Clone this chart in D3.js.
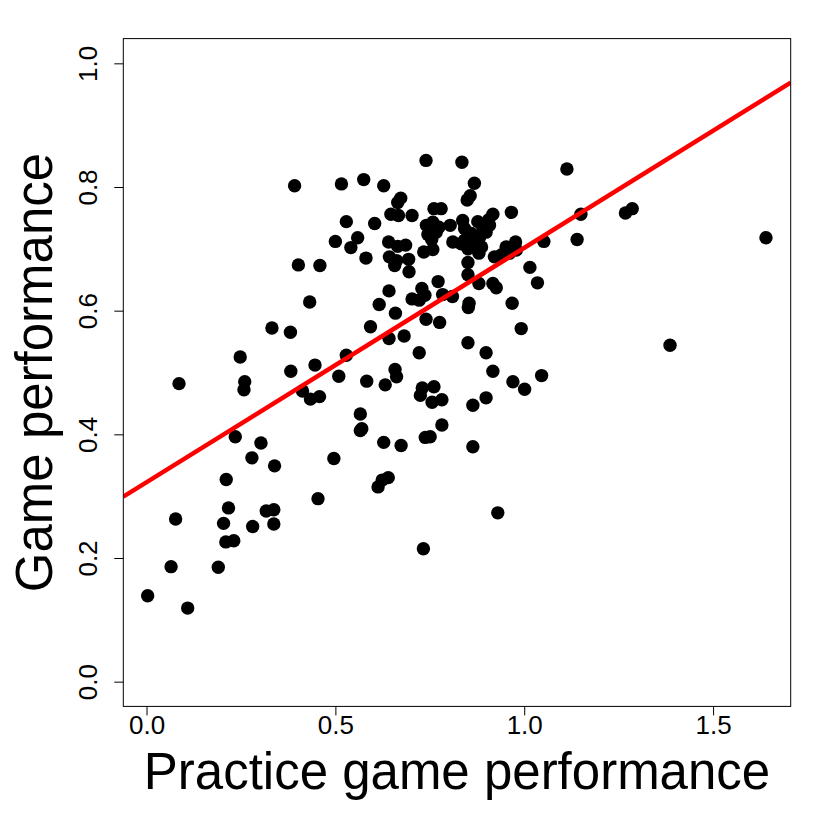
<!DOCTYPE html>
<meta charset="utf-8">
<style>
    body {
        margin: 0;
        background: #fff;
        font-family: "Liberation Sans", Arial, sans-serif;
    }

    .axis text {
        font-family: "Liberation Sans", Arial, sans-serif;
        font-size: 26px;
        fill: #000;
    }

    .axis line {
        stroke: #000;
        stroke-width: 1px;
    }

    .title {
        font-size: 51px;
        text-anchor: middle;
    }
</style>

<body>
    <script src="https://d3js.org/d3.v7.min.js"></script>

    <script>

        // practice game score (x) and game score (y) for each player
        var practice = [
            0.740, 0.835, 1.113, 0.392, 0.516, 0.575, 0.628, 0.868, 0.857, 0.849,
            0.673, 0.665, 0.647, 0.667, 0.703, 0.761, 0.780, 0.966, 0.917, 0.906,
            1.150, 1.268, 1.286, 0.529, 0.604, 0.804, 0.559, 0.500, 0.541, 0.581,
            0.641, 0.665, 0.686, 0.643, 0.662, 0.657, 0.694, 0.695, 0.741, 0.758,
            0.774, 0.745, 0.767, 0.755, 0.734, 0.758, 0.811, 0.833, 0.837, 0.842,
            0.877, 0.890, 0.908, 0.860, 0.882, 0.899, 0.842, 0.864, 0.887, 0.880,
            0.851, 0.921, 0.939, 0.952, 0.977, 0.979, 0.961, 1.052, 1.140, 1.640,
            0.851, 0.402, 0.459, 1.015, 0.851, 0.772, 0.880, 0.917, 0.926, 1.035,
            0.642, 0.729, 0.737, 0.703, 0.722, 0.784, 0.810, 0.432, 0.616, 0.854,
            0.852, 0.968, 0.659, 0.740, 0.776, 0.593, 0.332, 0.381, 0.992, 0.682,
            0.642, 1.386, 0.851, 0.722, 0.899, 0.248, 0.529, 0.446, 0.382, 0.658,
            0.662, 0.917, 0.509, 0.583, 0.632, 0.260, 0.258, 0.086, 0.970, 1.046,
            1.001, 0.730, 0.761, 0.725, 0.756, 0.782, 0.413, 0.434, 0.458, 0.899,
            0.864, 0.566, 0.570, 0.566, 0.782, 0.738, 0.751, 0.235, 0.303, 0.628,
            0.674, 0.864, 0.279, 0.496, 0.339, 0.211, 0.640, 0.624, 0.613, 0.454,
            0.930, 0.077, 0.217, 0.317, 0.337, 0.204, 0.281, 0.337, 0.210, 0.231,
            0.733, 0.065, 0.190, 0.003, 0.109
        ];
        var game = [
            0.843, 0.840, 0.829, 0.802, 0.805, 0.812, 0.802, 0.806, 0.786, 0.779,
            0.782, 0.775, 0.756, 0.754, 0.754, 0.765, 0.765, 0.759, 0.756, 0.747,
            0.756, 0.758, 0.765, 0.744, 0.741, 0.738, 0.718, 0.712, 0.702, 0.685,
            0.711, 0.704, 0.706, 0.687, 0.681, 0.673, 0.683, 0.663, 0.738, 0.743,
            0.735, 0.723, 0.727, 0.715, 0.695, 0.699, 0.711, 0.708, 0.746, 0.733,
            0.744, 0.735, 0.738, 0.725, 0.719, 0.727, 0.714, 0.705, 0.703, 0.693,
            0.700, 0.687, 0.690, 0.703, 0.711, 0.698, 0.693, 0.712, 0.715, 0.718,
            0.678, 0.674, 0.673, 0.670, 0.658, 0.647, 0.644, 0.644, 0.637, 0.645,
            0.632, 0.636, 0.625, 0.619, 0.617, 0.626, 0.623, 0.614, 0.610, 0.612,
            0.605, 0.612, 0.596, 0.586, 0.581, 0.574, 0.572, 0.565, 0.571, 0.559,
            0.555, 0.544, 0.548, 0.532, 0.532, 0.525, 0.528, 0.512, 0.502, 0.505,
            0.493, 0.502, 0.494, 0.486, 0.480, 0.485, 0.472, 0.482, 0.485, 0.495,
            0.473, 0.475, 0.477, 0.463, 0.452, 0.456, 0.470, 0.457, 0.461, 0.459,
            0.447, 0.433, 0.409, 0.406, 0.415, 0.395, 0.396, 0.396, 0.386, 0.387,
            0.382, 0.380, 0.362, 0.361, 0.349, 0.327, 0.330, 0.326, 0.315, 0.296,
            0.273, 0.263, 0.281, 0.276, 0.278, 0.256, 0.251, 0.255, 0.226, 0.228,
            0.215, 0.186, 0.185, 0.139, 0.119
        ];

        // fitted line
        var fitIntercept = 0.3225,
            fitSlope = 0.379;

        var xTicks = [0, 0.5, 1.0, 1.5],
            yTicks = [0, 0.2, 0.4, 0.6, 0.8, 1.0];

        var width = 830,
            height = 830,
            plotLeft = 123.3, plotRight = 790.7,
            plotTop = 38.6, plotBottom = 706.4;

        var x = d3.scaleLinear()
            .domain([-0.0615, 1.7055])
            .range([plotLeft, plotRight]);

        var y = d3.scaleLinear()
            .domain([-0.04, 1.04])
            .range([plotBottom, plotTop]);

        var points = practice.map(function (d, i) { return { x: d, y: game[i] }; });

        var svg = d3.select("body").append("svg")
            .attr("width", width)
            .attr("height", height);

        svg.append("defs").append("clipPath")
            .attr("id", "plot-clip")
            .append("rect")
            .attr("x", plotLeft)
            .attr("y", plotTop)
            .attr("width", plotRight - plotLeft)
            .attr("height", plotBottom - plotTop);

        // axes, R style: no axis line, labels parallel to the axis
        var xAxis = svg.append("g")
            .attr("class", "axis")
            .attr("transform", "translate(0," + plotBottom + ")")
            .call(d3.axisBottom(x).tickValues(xTicks).tickSize(9).tickFormat(d3.format(".1f")));
        xAxis.select(".domain").remove();
        xAxis.selectAll("text")
            .attr("y", 28)
            .attr("dy", 0);

        var yAxis = svg.append("g")
            .attr("class", "axis")
            .attr("transform", "translate(" + plotLeft + ",0)")
            .call(d3.axisLeft(y).tickValues(yTicks).tickSize(9).tickFormat(d3.format(".1f")));
        yAxis.select(".domain").remove();
        yAxis.selectAll("text")
            .attr("x", 0)
            .attr("dy", 0)
            .attr("text-anchor", "middle")
            .attr("transform", "translate(-26,0) rotate(-90)");

        // points
        svg.append("g")
            .selectAll("circle")
            .data(points)
            .enter().append("circle")
            .attr("cx", function (d) { return x(d.x); })
            .attr("cy", function (d) { return y(d.y); })
            .attr("r", 6.7)
            .attr("fill", "#000");

        // regression line
        var xd = x.domain();
        svg.append("line")
            .attr("clip-path", "url(#plot-clip)")
            .attr("x1", x(xd[0]))
            .attr("y1", y(fitIntercept + fitSlope * xd[0]))
            .attr("x2", x(xd[1]))
            .attr("y2", y(fitIntercept + fitSlope * xd[1]))
            .attr("stroke", "#ff0000")
            .attr("stroke-width", 4.5);

        // box
        svg.append("rect")
            .attr("x", plotLeft)
            .attr("y", plotTop)
            .attr("width", plotRight - plotLeft)
            .attr("height", plotBottom - plotTop)
            .attr("fill", "none")
            .attr("stroke", "#000")
            .attr("stroke-width", 1);

        svg.append("text")
            .attr("class", "title")
            .attr("x", (plotLeft + plotRight) / 2)
            .attr("y", 789)
            .text("Practice game performance");

        svg.append("text")
            .attr("class", "title")
            .attr("transform", "translate(52," + ((plotTop + plotBottom) / 2) + ") rotate(-90)")
            .text("Game performance");

    </script>

</body>

</html>
